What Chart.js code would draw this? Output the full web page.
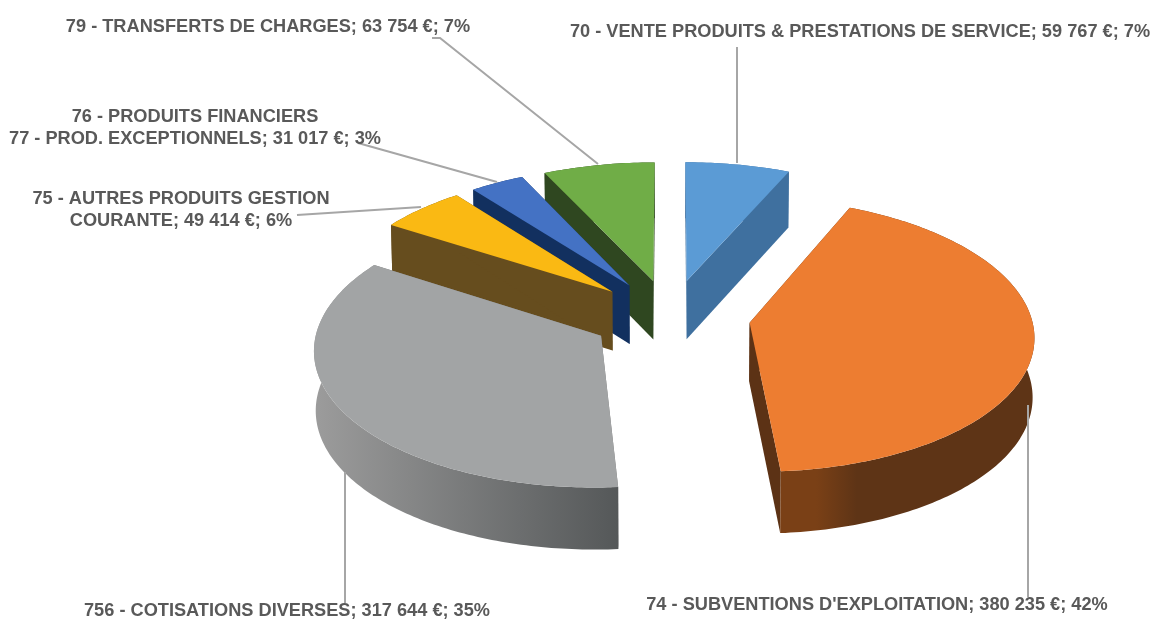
<!DOCTYPE html>
<html><head><meta charset="utf-8">
<style>html,body{margin:0;padding:0;background:#fff;overflow:hidden}#c{position:absolute;left:0;top:0;display:block}</style>
<script src="https://cdn.jsdelivr.net/npm/chart.js@4"></script>
</head><body><canvas id="c" width="1153" height="619"></canvas>
<script>
const categories = ["70 - VENTE PRODUITS & PRESTATIONS DE SERVICE","74 - SUBVENTIONS D'EXPLOITATION","756 - COTISATIONS DIVERSES","75 - AUTRES PRODUITS GESTION\nCOURANTE","76 - PRODUITS FINANCIERS\n77 - PROD. EXCEPTIONNELS","79 - TRANSFERTS DE CHARGES"];
const amounts = [59767,380235,317644,49414,31017,63754];
const percents = [7,42,35,6,3,7];
const topColors = ["#5B9BD5","#ED7D31","#A2A4A5","#FAB913","#4472C4","#70AD47"];
const faceColors = ["#3F709F","#5C3215","#7C7C7C","#664D1E","#12305F","#2F4720"];
const wallStart = ["#3F709F","#7A4016","#9C9C9C","#664D1E","#12305F","#2F4720"];
const wallEnd = ["#3F709F","#5E3416","#555859","#664D1E","#12305F","#2F4720"];
const paintOrder = [0,5,4,3,2,1];
const labelLayout = [
 {x:860,y:32,line:[[737,47],[737,163]]},
 {x:877,y:605,line:[[1028,597],[1028,405]]},
 {x:287,y:611,line:[[345,603],[345,472]]},
 {x:181,y:199,line:[[297,215],[421,207]]},
 {x:195,y:117,line:[[358,143],[497,182]]},
 {x:268,y:27,line:[[432,38],[440,38],[598,164]]}
];
const view = {cx:670.5,cy:316.5,R:290,Rx:0.972,b:0.465,ky:0.0003,kx:0.0003,depth:59,kd:0.00015};
function project(X,Y,down){
  const s=1/(1+view.kx*Y);
  const x=view.cx+X*s, y=view.cy-view.b*Y/(1+view.ky*Y);
  if(!down) return [x,y];
  return [view.cx+(x-view.cx)*0.995, y+view.depth/(1+view.kd*Y)];
}
function poly(ctx,pts){ctx.beginPath();pts.forEach((p,i)=>i?ctx.lineTo(p[0],p[1]):ctx.moveTo(p[0],p[1]));ctx.closePath();}
const pie3d={id:'pie3d',
 beforeDatasetsDraw(chart){
  const ctx=chart.ctx, arcs=chart.getDatasetMeta(0).data;
  paintOrder.forEach(i=>{
    const a=arcs[i], u=view.R/a.outerRadius, e=a.options.offset*u;
    const mid=(a.startAngle+a.endAngle)/2;
    const ox=Math.cos(mid)*e, oy=-Math.sin(mid)*e;
    const rim=t=>[ox+Math.cos(t)*view.R*view.Rx, oy-Math.sin(t)*view.R];
    const n=Math.max(8,Math.ceil((a.endAngle-a.startAngle)*60));
    const top=[],bot=[];
    for(let k=0;k<=n;k++){const t=a.startAngle+(a.endAngle-a.startAngle)*k/n,p=rim(t);top.push(project(p[0],p[1],false));bot.push(project(p[0],p[1],true));}
    const at=project(ox,oy,false),ab=project(ox,oy,true);
    ctx.save();
    ctx.fillStyle=faceColors[i];
    poly(ctx,[at,top[0],bot[0],ab]);ctx.fill();
    poly(ctx,[at,top[n],bot[n],ab]);ctx.fill();
    const xs=top.map(p=>p[0]),l=Math.min(...xs),r=Math.max(...xs);
    const g=ctx.createLinearGradient(l,0,r,0);
    if(i===1){g.addColorStop(0,wallStart[i]);g.addColorStop(0.14,wallStart[i]);g.addColorStop(0.3,wallEnd[i]);g.addColorStop(1,wallEnd[i]);}
    else{g.addColorStop(0,wallStart[i]);g.addColorStop(1,wallEnd[i]);}
    ctx.fillStyle=g;
    poly(ctx,top.concat(bot.slice().reverse()));ctx.fill();
    ctx.fillStyle=a.options.backgroundColor;
    poly(ctx,[at].concat(top));ctx.fill();
    ctx.restore();
  });
  return false;
 },
 afterDraw(chart){
  const ctx=chart.ctx;
  ctx.save();
  ctx.strokeStyle="#A6A6A6";ctx.lineWidth=2;
  labelLayout.forEach(l=>{ctx.beginPath();l.line.forEach((p,i)=>i?ctx.lineTo(p[0],p[1]):ctx.moveTo(p[0],p[1]));ctx.stroke();});
  ctx.fillStyle="#595959";ctx.font='bold 18.2px "Liberation Sans"';ctx.textAlign="center";ctx.textBaseline="middle";
  categories.forEach((c,i)=>{
    const lines=c.split("\n"), amt=String(amounts[i]).replace(/\B(?=(\d{3})+$)/g," ");
    lines[lines.length-1]+="; "+amt+" €; "+percents[i]+"%";
    lines.forEach((s,j)=>ctx.fillText(s,labelLayout[i].x,labelLayout[i].y+j*22));
  });
  ctx.restore();
 }
};
new Chart(document.getElementById('c'),{
 type:'pie',
 data:{labels:categories,datasets:[{data:amounts,backgroundColor:topColors,borderWidth:0,offset:75}]},
 options:{responsive:false,animation:false,rotation:0,layout:{padding:0},
  plugins:{legend:{display:false},tooltip:{enabled:false}}},
 plugins:[pie3d]
});
</script></body></html>
